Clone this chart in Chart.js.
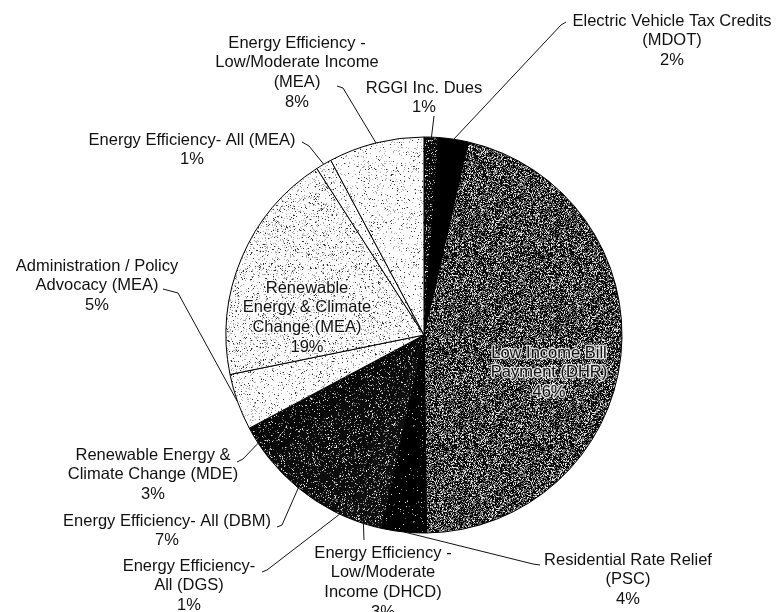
<!DOCTYPE html>
<html>
<head>
<meta charset="utf-8">
<script src="https://cdn.jsdelivr.net/npm/chart.js@4.4.0/dist/chart.umd.min.js"></script>
<style>
  html, body { margin: 0; padding: 0; background: #fff; }
  #wrap { width: 780px; height: 612px; }
</style>
</head>
<body>
<div id="wrap"><canvas id="chart" width="780" height="612"></canvas></div>
<script>
// slices, clockwise from 12 o'clock
const categories = [
  ['RGGI Inc. Dues'],
  ['Electric Vehicle Tax Credits', '(MDOT)'],
  ['Low Income Bill', 'Payment (DHR)'],
  ['Residential Rate Relief', '(PSC)'],
  ['Energy Efficiency -', 'Low/Moderate', 'Income (DHCD)'],
  ['Energy Efficiency-', 'All (DGS)'],
  ['Energy Efficiency- All (DBM)'],
  ['Renewable Energy &', 'Climate Change (MDE)'],
  ['Administration / Policy', 'Advocacy (MEA)'],
  ['Renewable', 'Energy & Climate', 'Change (MEA)'],
  ['Energy Efficiency- All (MEA)'],
  ['Energy Efficiency -', 'Low/Moderate Income', '(MEA)']
];
const values = [1.2, 2.4, 46.2, 3.6, 3.1, 1.0, 6.9, 2.8, 4.6, 19.1, 1.3, 7.8];

// texture per slice: [base grey, mid grey share, contrast share]
const textures = [
  [10, 0.10, 0.06],
  [0, 0, 0],
  [10, 0.30, 0.17],
  [0, 0.02, 0.01],
  [15, 0.12, 0.05],
  [15, 0.12, 0.05],
  [12, 0.10, 0.05],
  [8, 0.08, 0.04],
  [252, 0.08, 0.03],
  [250, 0.11, 0.045],
  [252, 0.07, 0.03],
  [252, 0.07, 0.03]
];

// label placement: text centre of first line, leader polyline start (ends on the slice)
const labelPos = [
  { x: 424, y: 88, leader: [[434, 116]] },
  { x: 672, y: 21, leader: [[566, 22], [561, 25]] },
  { x: 549, y: 353, inside: true },
  { x: 628, y: 560, leader: [[540, 565], [533, 564]] },
  { x: 383, y: 553, leader: [[364, 540]] },
  { x: 189, y: 566, leader: [[262, 572], [267, 570]] },
  { x: 167, y: 521, leader: [[277, 527], [282, 525]] },
  { x: 153, y: 455, leader: [[237, 462], [243, 459]] },
  { x: 97, y: 266, leader: [[163, 289], [178, 293]] },
  { x: 307, y: 288, inside: true },
  { x: 192, y: 140, leader: [[302, 142], [309, 146]] },
  { x: 297, y: 43, leader: [[337, 86], [343, 88]] }
];

const FONT = '16.5px "Liberation Sans", Arial, sans-serif';
const LINE = 19.7;

function rng(seed) {
  return function () {
    seed |= 0; seed = seed + 0x6D2B79F5 | 0;
    let t = Math.imul(seed ^ seed >>> 15, 1 | seed);
    t = t + Math.imul(t ^ t >>> 7, 61 | t) ^ t;
    return ((t ^ t >>> 14) >>> 0) / 4294967296;
  };
}

function makeTexture(ctx, spec, seed) {
  const [base, midShare, lightShare] = spec;
  const size = 96;
  const c = document.createElement('canvas');
  c.width = size; c.height = size;
  const g = c.getContext('2d');
  const img = g.createImageData(size, size);
  const r = rng(seed);
  const dark = base < 128;
  for (let i = 0; i < size * size; i++) {
    const v = r();
    let col = base;
    if (v < lightShare) col = dark ? 225 : 50;
    else if (v < lightShare + midShare) col = dark ? 115 : 170;
    img.data[i * 4] = col;
    img.data[i * 4 + 1] = col;
    img.data[i * 4 + 2] = col;
    img.data[i * 4 + 3] = 255;
  }
  g.putImageData(img, 0, 0);
  return ctx.createPattern(c, 'repeat');
}

const calloutPlugin = {
  id: 'callouts',
  afterDatasetsDraw(chart) {
    const ctx = chart.ctx;
    const meta = chart.getDatasetMeta(0);
    const total = values.reduce((a, b) => a + b, 0);
    ctx.save();
    ctx.font = FONT;
    ctx.textAlign = 'center';
    ctx.textBaseline = 'middle';
    ctx.strokeStyle = '#111';
    ctx.lineWidth = 1;
    meta.data.forEach((arc, i) => {
      const p = arc.getProps(['x', 'y', 'startAngle', 'endAngle', 'outerRadius'], true);
      const mid = (p.startAngle + p.endAngle) / 2;
      const ax = p.x + Math.cos(mid) * p.outerRadius;
      const ay = p.y + Math.sin(mid) * p.outerRadius;
      const pos = labelPos[i];
      if (pos.leader) {
        ctx.beginPath();
        ctx.moveTo(pos.leader[0][0], pos.leader[0][1]);
        pos.leader.slice(1).forEach(pt => ctx.lineTo(pt[0], pt[1]));
        ctx.lineTo(ax, ay);
        ctx.stroke();
      }
      const lines = categories[i].concat(Math.round(values[i] / total * 100) + '%');
      lines.forEach((t, k) => {
        const y = pos.y + k * LINE;
        if (pos.inside) {
          ctx.save();
          ctx.strokeStyle = 'rgba(255,255,255,0.8)';
          ctx.lineWidth = 2.5;
          ctx.lineJoin = 'round';
          ctx.strokeText(t, pos.x, y);
          ctx.restore();
        }
        ctx.fillStyle = '#111';
        ctx.fillText(t, pos.x, y);
      });
    });
    ctx.restore();
  }
};

const canvas = document.getElementById('chart');
const ctx = canvas.getContext('2d');
const fills = textures.map((t, i) => makeTexture(ctx, t, 17 + i * 31));

new Chart(ctx, {
  type: 'pie',
  data: {
    labels: categories,
    datasets: [{
      data: values,
      backgroundColor: fills,
      borderColor: '#000',
      borderWidth: 1,
      radius: 198
    }]
  },
  options: {
    responsive: false,
    animation: false,
    devicePixelRatio: 1,
    layout: { padding: { left: 68, right: 0, top: 58, bottom: 0 } },
    plugins: {
      legend: { display: false },
      tooltip: { enabled: false }
    }
  },
  plugins: [calloutPlugin]
});
</script>
</body>
</html>
